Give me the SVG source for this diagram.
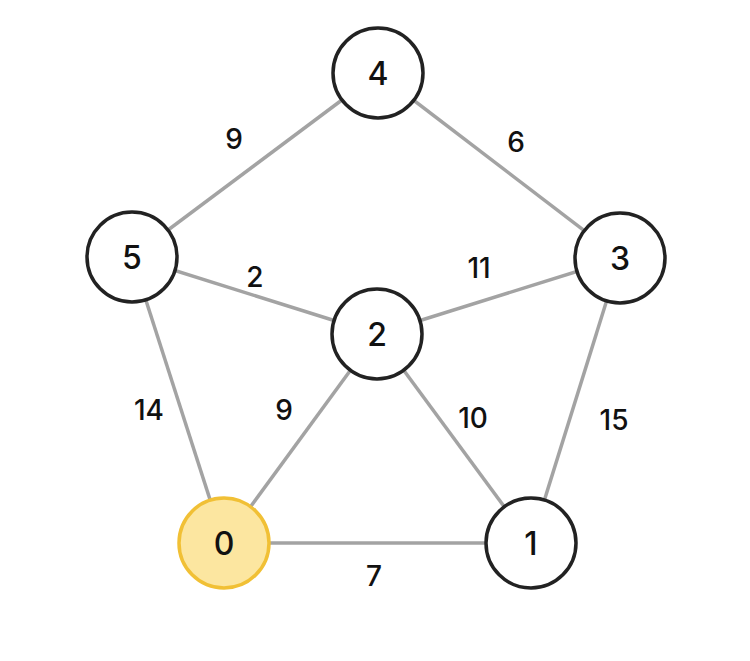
<svg xmlns="http://www.w3.org/2000/svg" width="750" height="661" viewBox="0 0 750 661">
<style>
.e{stroke:#a3a3a3;stroke-width:3.5;fill:none}
.n{fill:#ffffff;stroke:#222222;stroke-width:3.5}
.s{fill:#fce6a0;stroke:#f1c035;stroke-width:3.5}
.t{font-family:Inter,"Noto Sans",sans-serif;font-size:32px;font-weight:500;fill:#111;text-anchor:middle;dominant-baseline:central}
.w{font-family:Inter,"Noto Sans",sans-serif;font-size:28px;font-weight:500;fill:#111;text-anchor:middle;dominant-baseline:central}
</style>
<rect width="750" height="661" fill="#ffffff"/>
<g id="connectors">
<line class="e" x1="378" y1="73" x2="132" y2="257"/>
<line class="e" x1="378" y1="73" x2="620" y2="258"/>
<line class="e" x1="132" y1="257" x2="377" y2="334"/>
<line class="e" x1="620" y1="258" x2="377" y2="334"/>
<line class="e" x1="132" y1="257" x2="224" y2="543"/>
<line class="e" x1="377" y1="334" x2="224" y2="543"/>
<line class="e" x1="377" y1="334" x2="531" y2="543"/>
<line class="e" x1="620" y1="258" x2="531" y2="543"/>
<line class="e" x1="224" y1="543" x2="531" y2="543"/>
</g>
<g id="edge-labels">
<text class="w" x="234" y="139">9</text>
<text class="w" x="516" y="142">6</text>
<text class="w" x="255" y="277">2</text>
<text class="w" x="479" y="268">11</text>
<text class="w" x="149" y="410">14</text>
<text class="w" x="284" y="410">9</text>
<text class="w" x="473" y="418">10</text>
<text class="w" x="614" y="420">15</text>
<text class="w" x="374" y="576">7</text>
</g>
<g id="node4"><circle class="n" cx="378" cy="73" r="45"/><text class="t" x="378" y="73">4</text></g>
<g id="node5"><circle class="n" cx="132" cy="257" r="45"/><text class="t" x="132" y="257">5</text></g>
<g id="node3"><circle class="n" cx="620" cy="258" r="45"/><text class="t" x="620" y="258">3</text></g>
<g id="node2"><circle class="n" cx="377" cy="334" r="45"/><text class="t" x="377" y="334">2</text></g>
<g id="node0"><circle class="s" cx="224" cy="543" r="45"/><text class="t" x="224" y="543">0</text></g>
<g id="node1"><circle class="n" cx="531" cy="543" r="45"/><text class="t" x="531" y="543">1</text></g>
</svg>
